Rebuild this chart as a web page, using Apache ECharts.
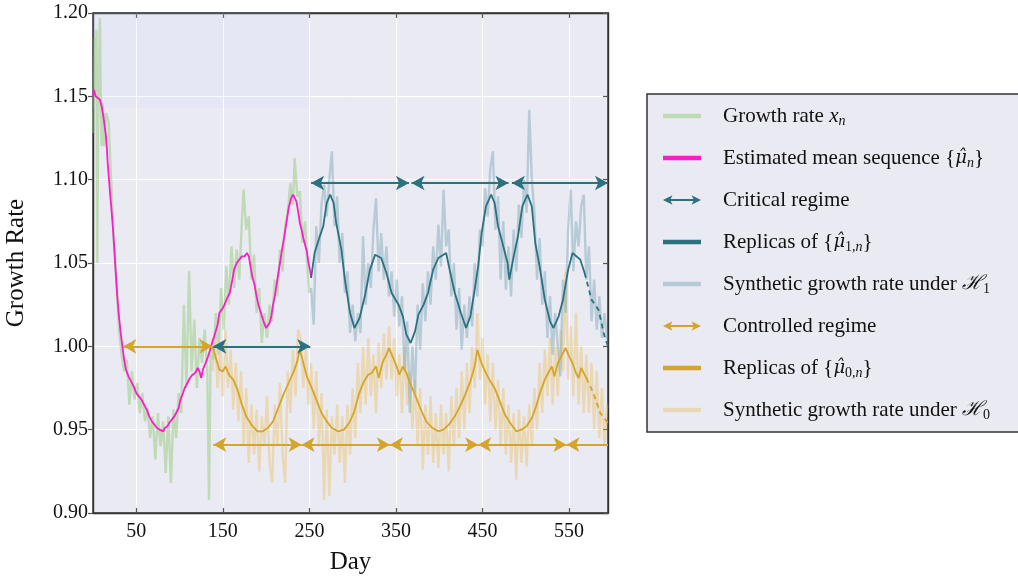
<!DOCTYPE html>
<html><head><meta charset="utf-8">
<script src="https://cdn.jsdelivr.net/npm/echarts@6/dist/echarts.min.js"></script>
<style>html,body{margin:0;padding:0;background:#fff}#c{width:1018px;height:581px}</style>
</head><body><div id="c"></div>
<script>
// ---------- data ----------
const xTickValues = [50,150,250,350,450,550];
const highlightBox = [[0,1.143],[250,1.2]];

const growthRate = [[0,1.128],[1,1.160],[2,1.185],[3,1.150],[4,1.190],[5,1.050],[6,1.140],[7,1.170],[8,1.197],[9,1.150],[10,1.120],[11,1.146],[12,1.140],[13,1.120],[14,1.128],[15,1.140],[18,1.135],[21,1.100],[24,1.065],[27,1.040],[30,1.010],[33,0.995],[36,0.985],[39,0.992],[42,0.965],[45,0.985],[48,0.968],[51,0.978],[54,0.960],[57,0.972],[60,0.955],[63,0.963],[66,0.945],[69,0.958],[72,0.932],[75,0.960],[78,0.940],[81,0.955],[84,0.924],[87,0.958],[90,0.918],[93,0.962],[96,0.945],[99,0.972],[102,0.960],[105,1.025],[108,0.975],[111,1.045],[114,0.985],[117,1.016],[120,0.975],[123,1.005],[126,0.990],[129,1.010],[132,0.985],[134,0.908],[136,1.000],[139,0.992],[142,1.020],[145,0.995],[148,1.035],[151,1.010],[154,1.048],[157,1.025],[160,1.060],[163,1.035],[166,1.058],[169,1.040],[172,1.075],[174,1.094],[177,1.070],[180,1.078],[183,1.040],[186,1.055],[189,1.020],[192,1.035],[195,1.002],[198,1.020],[201,1.005],[204,1.025],[207,1.015],[210,1.040],[213,1.030],[216,1.058],[219,1.045],[222,1.072],[225,1.080],[228,1.098],[231,1.085],[233,1.113],[236,1.090],[239,1.093],[242,1.062],[245,1.075],[248,1.045],[250,1.032]];

const meanSeq = [[0,1.150],[1,1.154],[2,1.152],[3,1.150],[5,1.149],[8,1.148],[10,1.144],[12,1.138],[14,1.130],[15,1.126],[16,1.119],[17,1.110],[18.5,1.100],[20,1.090],[21.5,1.081],[23,1.071],[25,1.055],[27,1.038],[28.5,1.027],[30,1.018],[32,1.008],[34,1.000],[36,0.992],[38,0.986],[41,0.982],[44,0.979],[47,0.976],[50,0.972],[53,0.970],[56,0.968],[59,0.965],[62,0.962],[65,0.958],[68,0.955],[71,0.953],[74,0.951],[77,0.950],[79,0.951],[81,0.949],[83,0.951],[86,0.952],[88,0.954],[91,0.956],[94,0.958],[96,0.960],[99,0.963],[101,0.968],[104,0.972],[106,0.975],[109,0.978],[112,0.981],[115,0.983],[118,0.984],[121,0.987],[123,0.985],[125,0.981],[127,0.986],[130,0.990],[133,0.994],[136,0.999],[138,1.003],[140,1.006],[142,1.006],[144,1.013],[146,1.020],[148,1.021],[150,1.023],[152,1.025],[155,1.029],[158,1.032],[161,1.040],[163,1.046],[166,1.050],[169,1.052],[172,1.054],[175,1.054],[178,1.056],[180,1.054],[182,1.048],[184,1.042],[187,1.036],[189,1.030],[191,1.025],[194,1.020],[197,1.015],[200,1.011],[202,1.011],[204,1.014],[206,1.018],[208,1.025],[210,1.030],[213,1.040],[216,1.050],[219,1.060],[221,1.066],[224,1.076],[226,1.083],[229,1.089],[231,1.091],[233,1.091],[235,1.087],[237,1.081],[239,1.074],[241,1.070],[243,1.065],[245,1.061],[247,1.057],[249,1.050],[251,1.045],[252,1.041]];

const replicaMu1 = [[252,1.041],[256,1.056],[262,1.066],[266,1.072],[270,1.086],[274,1.091],[278,1.086],[281,1.074],[287,1.058],[291,1.040],[297,1.020],[302,1.011],[308,1.017],[314,1.030],[320,1.046],[326,1.055],[333,1.053],[339,1.044],[345,1.032],[353,1.025],[358,1.018],[362,1.007],[367,1.002],[372,1.009],[376,1.019],[382,1.025],[387,1.032],[393,1.046],[399,1.053],[408,1.056],[412,1.046],[418,1.032],[425,1.020],[431,1.011],[436,1.018],[441,1.034],[445,1.048],[449,1.068],[454,1.084],[460,1.091],[464,1.086],[468,1.072],[474,1.060],[479,1.050],[481,1.040],[486,1.054],[491,1.066],[496,1.084],[502,1.091],[507,1.084],[511,1.062],[516,1.048],[522,1.028],[528,1.015],[532,1.011],[538,1.018],[543,1.028],[549,1.046],[554,1.056],[563,1.052],[568,1.044]];
const replicaMu1Tail = [[568,1.044],[576,1.028],[584,1.022],[591,1.006],[595,1.000]];

const synthH1 = [[252,1.035],[255,1.013],[258,1.072],[261,1.050],[264,1.085],[267,1.097],[270,1.078],[273,1.100],[276,1.117],[279,1.072],[282,1.090],[285,1.050],[288,1.068],[291,1.032],[294,1.045],[297,1.008],[300,1.025],[303,1.003],[306,1.020],[309,1.008],[312,1.066],[315,1.025],[318,1.050],[321,1.035],[324,1.070],[327,1.089],[330,1.045],[333,1.068],[336,1.040],[339,1.060],[342,1.030],[345,1.045],[348,1.018],[351,1.040],[354,1.012],[357,1.030],[360,0.985],[363,1.015],[366,0.960],[369,1.000],[372,0.972],[375,1.025],[378,0.998],[381,1.038],[384,1.015],[387,1.045],[390,1.025],[393,1.060],[396,1.040],[399,1.073],[402,1.048],[405,1.094],[408,1.060],[411,1.070],[414,1.030],[417,1.050],[420,1.010],[423,1.035],[426,0.998],[429,1.025],[432,1.005],[435,1.030],[438,1.012],[441,1.050],[444,1.030],[447,1.070],[450,1.060],[453,1.095],[456,1.078],[459,1.107],[462,1.117],[465,1.070],[468,1.090],[471,1.040],[474,1.075],[477,1.034],[480,1.060],[483,1.030],[486,1.070],[489,1.045],[492,1.085],[495,1.065],[498,1.100],[501,1.080],[504,1.142],[507,1.100],[510,1.080],[513,1.040],[516,1.065],[519,1.025],[522,1.045],[525,1.005],[528,1.030],[531,0.995],[534,1.020],[537,1.000],[540,0.982],[543,1.040],[546,1.020],[549,1.070],[552,1.094],[555,1.045],[558,1.075],[561,1.060],[564,1.084],[567,1.091],[570,1.040],[573,1.060],[576,1.015],[579,1.040],[582,1.010],[585,1.030],[588,1.005],[591,1.020],[594,1.004]];

const replicaMu0 = [[138,1.000],[142,0.993],[146,0.986],[150,0.985],[153,0.988],[157,0.983],[162,0.980],[167,0.974],[172,0.965],[177,0.958],[183,0.953],[190,0.949],[196,0.949],[202,0.951],[208,0.955],[214,0.963],[220,0.971],[226,0.978],[232,0.985],[236,0.991],[239,0.998],[243,0.990],[247,0.982],[252,0.976],[258,0.968],[264,0.960],[270,0.955],[276,0.951],[283,0.949],[290,0.950],[296,0.954],[302,0.961],[307,0.971],[313,0.979],[318,0.983],[322,0.984],[327,0.988],[330,0.981],[335,0.991],[339,0.995],[342,0.999],[346,0.994],[350,0.989],[354,0.983],[358,0.988],[362,0.984],[367,0.977],[372,0.971],[378,0.963],[385,0.955],[392,0.951],[399,0.949],[405,0.950],[411,0.953],[418,0.958],[424,0.964],[430,0.971],[436,0.979],[441,0.988],[444,0.998],[448,0.991],[453,0.985],[458,0.980],[464,0.975],[470,0.967],[476,0.959],[482,0.954],[489,0.949],[495,0.950],[501,0.952],[507,0.957],[512,0.964],[517,0.973],[522,0.980],[526,0.984],[530,0.988],[533,0.982],[537,0.990],[541,0.994],[546,0.999],[550,0.994],[554,0.990],[558,0.984],[561,0.981],[564,0.987],[568,0.983],[570,0.981]];
const replicaMu0Tail = [[570,0.981],[578,0.972],[586,0.960],[595,0.954]];

const synthH0 = [[138,0.985],[141,1.005],[144,0.975],[147,1.000],[150,0.970],[153,1.010],[156,0.975],[159,0.998],[162,0.962],[165,0.990],[168,0.955],[171,0.985],[174,0.940],[177,0.975],[180,0.930],[183,0.965],[186,0.935],[189,0.962],[192,0.925],[195,0.958],[198,0.940],[201,0.970],[204,0.930],[207,0.918],[210,0.965],[213,0.940],[216,0.978],[219,0.935],[222,0.918],[225,0.985],[228,0.960],[231,0.998],[234,0.970],[237,1.010],[240,1.005],[243,0.975],[246,1.000],[249,0.965],[252,0.990],[255,0.950],[258,0.985],[261,0.940],[264,0.972],[267,0.908],[270,0.962],[273,0.910],[276,0.958],[279,0.935],[282,0.965],[285,0.930],[288,0.958],[291,0.918],[294,0.965],[297,0.935],[300,0.975],[303,0.945],[306,0.990],[309,0.960],[312,1.000],[315,0.965],[318,1.005],[321,0.970],[324,0.995],[327,0.960],[330,1.002],[333,0.975],[336,1.008],[339,0.980],[342,1.012],[345,0.980],[348,1.005],[351,0.970],[354,0.995],[357,0.960],[360,1.000],[363,0.965],[366,0.985],[369,0.950],[372,0.980],[375,0.940],[378,0.975],[381,0.926],[384,0.965],[387,0.935],[390,0.970],[393,0.930],[396,0.960],[399,0.927],[402,0.965],[405,0.935],[408,0.960],[411,0.925],[414,0.970],[417,0.940],[420,0.975],[423,0.945],[426,0.985],[429,0.950],[432,0.990],[435,0.960],[438,1.000],[441,0.975],[444,1.020],[447,0.980],[450,1.005],[453,0.965],[456,0.995],[459,0.955],[462,0.990],[465,0.950],[468,0.980],[471,0.940],[474,0.975],[477,0.935],[480,0.965],[483,0.930],[486,0.960],[489,0.920],[492,0.962],[495,0.930],[498,0.958],[501,0.928],[504,0.965],[507,0.940],[510,0.975],[513,0.950],[516,0.990],[519,0.960],[522,0.998],[525,0.970],[528,1.005],[531,0.965],[534,1.000],[537,0.970],[540,1.010],[543,0.985],[546,1.045],[549,0.980],[552,1.012],[555,0.970],[558,1.020],[561,0.965],[564,1.000],[567,0.960],[570,0.995],[573,0.960],[576,0.990],[579,0.950],[582,0.985],[585,0.945],[588,0.975],[591,0.940],[594,0.965]];

// regime arrows: [startDay, endDay, level]
const criticalArrows = [[139,251,1.000],[252,365,1.098],[368,480,1.098],[484,595,1.098]];
const controlledArrows = [[35,138,1.000],[139,241,0.941],[241,343,0.941],[343,445,0.941],[445,547,0.941],[547,595,0.941]];

const legendLabels = {
  growth: 'Growth rate {it|x}{sub|n}',
  mean: 'Estimated mean sequence {{hat|\u03BC\u0302}{sub|n}}',
  critical: 'Critical regime',
  mu1: 'Replicas of {{hat|\u03BC\u0302}{subr|1,}{sub|n}}',
  h1: 'Synthetic growth rate under {scr|\u210B}{subr|1}',
  controlled: 'Controlled regime',
  mu0: 'Replicas of {{hat|\u03BC\u0302}{subr|0,}{sub|n}}',
  h0: 'Synthetic growth rate under {scr|\u210B}{subr|0}'
};

// ---------- styling ----------
const SERIF = "'Liberation Serif','Times New Roman',serif";
const C = {
  green: 'rgba(140,200,110,0.45)',
  magenta: '#fa1ec8',
  teal: '#2b7180',
  blueLight: 'rgba(90,145,165,0.35)',
  gold: '#d4a52c',
  goldLight: 'rgba(235,190,90,0.4)'
};
const lineIcon = 'path://M0,0H38V4.5H0Z';
const arrowIcon = 'path://M0,5L10,0L8,4H32L30,0L40,5L30,10L32,6H8L10,10Z';

function arrowLines(arr, openLast) {
  return arr.map(function (a, i) {
    return [{coord: [a[0], a[2]]}, {coord: [a[1], a[2]], symbol: (openLast && i === arr.length - 1) ? 'none' : 'arrow'}];
  });
}

const chart = echarts.init(document.getElementById('c'), null, {renderer: 'canvas'});
const baseLine = {type: 'line', showSymbol: false, symbol: 'none', xAxisIndex: 0, yAxisIndex: 0, animation: false};

chart.setOption({
  animation: false,
  backgroundColor: '#ffffff',
  grid: {left: 93, right: 410, top: 13, bottom: 68, show: true, backgroundColor: '#EAEAF2', borderColor: '#333', borderWidth: 1.4, containLabel: false, outerBoundsMode: 'none'},
  xAxis: [{
    type: 'value', min: 0, max: 595, position: 'bottom',
    name: 'Day', nameLocation: 'middle', nameGap: 37,
    nameTextStyle: {fontFamily: SERIF, fontSize: 25, color: '#111'},
    axisLine: {show: true, onZero: false, lineStyle: {color: '#333', width: 1.4}},
    axisTick: {show: true, inside: true, length: 5, customValues: xTickValues, lineStyle: {color: '#555', width: 1.2}},
    axisLabel: {customValues: xTickValues, margin: 9, fontFamily: SERIF, fontSize: 20, color: '#111'},
    splitLine: {show: true, lineStyle: {color: '#ffffff', width: 1}}
  }, {
    type: 'value', min: 0, max: 595, position: 'top',
    axisLine: {show: true, onZero: false, lineStyle: {color: '#333', width: 1.4}},
    axisTick: {show: true, inside: true, length: 5, customValues: xTickValues, lineStyle: {color: '#555', width: 1.2}},
    axisLabel: {show: false, customValues: xTickValues},
    splitLine: {show: false}
  }],
  yAxis: [{
    type: 'value', min: 0.9, max: 1.2, interval: 0.05, position: 'left',
    name: 'Growth Rate', nameLocation: 'middle', nameGap: 64,
    nameTextStyle: {fontFamily: SERIF, fontSize: 25, color: '#111'},
    axisLine: {show: true, onZero: false, lineStyle: {color: '#333', width: 1.4}},
    axisTick: {show: true, inside: false, length: 5, lineStyle: {color: '#555', width: 1.2}},
    axisLabel: {margin: 5, fontFamily: SERIF, fontSize: 20, color: '#111', formatter: function (v) { return v.toFixed(2); }},
    splitLine: {show: true, lineStyle: {color: '#ffffff', width: 1}}
  }, {
    type: 'value', min: 0.9, max: 1.2, interval: 0.05, position: 'right',
    axisLine: {show: true, onZero: false, lineStyle: {color: '#333', width: 1.4}},
    axisTick: {show: true, inside: true, length: 5, lineStyle: {color: '#555', width: 1.2}},
    axisLabel: {show: false},
    splitLine: {show: false}
  }],
  legend: {
    orient: 'vertical', left: 647, top: 94,
    padding: [10, 40, 10, 16], itemGap: 18, itemWidth: 38, itemHeight: 14,
    backgroundColor: '#EAEAF2', borderColor: '#333', borderWidth: 1.5, borderRadius: 0,
    symbolKeepAspect: true, selectedMode: false,
    formatter: function (name) { return legendLabels[name]; },
    textStyle: {
      fontFamily: SERIF, fontSize: 21, color: '#111', lineHeight: 24, padding: [0, 0, 0, 17],
      rich: {
        it: {fontFamily: SERIF, fontSize: 21, fontStyle: 'italic', color: '#111', lineHeight: 24},
        hat: {fontFamily: "'DejaVu Serif',serif", fontSize: 18, fontStyle: 'italic', color: '#111', lineHeight: 24},
        sub: {fontFamily: SERIF, fontSize: 14, fontStyle: 'italic', color: '#111', lineHeight: 14, verticalAlign: 'bottom'},
        subr: {fontFamily: SERIF, fontSize: 14, color: '#111', lineHeight: 14, verticalAlign: 'bottom'},
        scr: {fontFamily: SERIF, fontSize: 20, fontStyle: 'italic', color: '#111', lineHeight: 24}
      }
    },
    data: [
      {name: 'growth', icon: lineIcon},
      {name: 'mean', icon: lineIcon},
      {name: 'critical', icon: arrowIcon},
      {name: 'mu1', icon: lineIcon},
      {name: 'h1', icon: lineIcon},
      {name: 'controlled', icon: arrowIcon},
      {name: 'mu0', icon: lineIcon},
      {name: 'h0', icon: lineIcon}
    ]
  },
  series: [
    Object.assign({}, baseLine, {
      name: 'box', data: [], silent: true, z: 1,
      markArea: {silent: true, itemStyle: {color: 'rgba(205,222,255,0.16)'}, data: [[{coord: highlightBox[0]}, {coord: highlightBox[1]}]]}
    }),
    Object.assign({}, baseLine, {name: 'growth', data: growthRate, color: C.green, itemStyle: {color: C.green}, lineStyle: {color: C.green, width: 2.4}}),
    Object.assign({}, baseLine, {name: 'h0', data: synthH0, color: C.goldLight, itemStyle: {color: C.goldLight}, lineStyle: {color: C.goldLight, width: 2.4}}),
    Object.assign({}, baseLine, {name: 'h1', data: synthH1, color: C.blueLight, itemStyle: {color: C.blueLight}, lineStyle: {color: C.blueLight, width: 2.4}}),
    Object.assign({}, baseLine, {name: 'mean', data: meanSeq, color: C.magenta, itemStyle: {color: C.magenta}, lineStyle: {color: C.magenta, width: 1.8}}),
    Object.assign({}, baseLine, {name: 'mu0', data: replicaMu0, color: C.gold, itemStyle: {color: C.gold}, lineStyle: {color: C.gold, width: 1.8}}),
    Object.assign({}, baseLine, {name: 'mu0', data: replicaMu0Tail, color: C.gold, itemStyle: {color: C.gold}, lineStyle: {color: C.gold, width: 1.8, type: [5, 4]}}),
    Object.assign({}, baseLine, {name: 'mu1', data: replicaMu1, color: C.teal, itemStyle: {color: C.teal}, lineStyle: {color: C.teal, width: 1.8}}),
    Object.assign({}, baseLine, {name: 'mu1', data: replicaMu1Tail, color: C.teal, itemStyle: {color: C.teal}, lineStyle: {color: C.teal, width: 1.8, type: [5, 4]}}),
    Object.assign({}, baseLine, {
      name: 'critical', data: [], color: C.teal, itemStyle: {color: C.teal}, z: 5,
      markLine: {silent: true, symbol: ['arrow', 'arrow'], symbolSize: [11, 13], label: {show: false},
        lineStyle: {color: C.teal, width: 2, type: 'solid'}, data: arrowLines(criticalArrows, false)}
    }),
    Object.assign({}, baseLine, {
      name: 'controlled', data: [], color: C.gold, itemStyle: {color: C.gold}, z: 5,
      markLine: {silent: true, symbol: ['arrow', 'arrow'], symbolSize: [11, 13], label: {show: false},
        lineStyle: {color: C.gold, width: 2, type: 'solid'}, data: arrowLines(controlledArrows, true)}
    })
  ]
});
</script>
</body></html>
